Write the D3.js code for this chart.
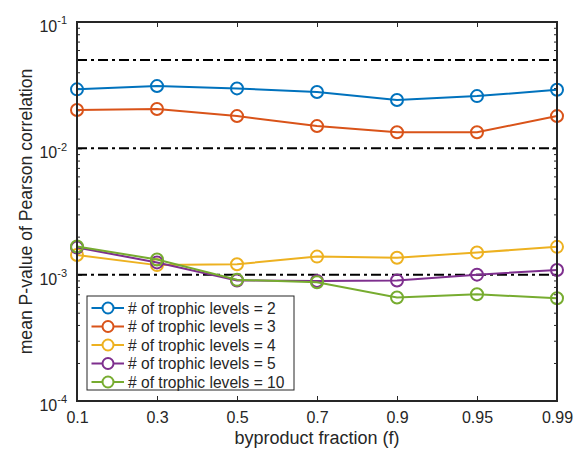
<!DOCTYPE html>
<html>
<head>
<meta charset="utf-8">
<script src="https://cdn.jsdelivr.net/npm/d3@7"></script>
<style>
  body { margin: 0; background: #fff; }
  text { font-family: "Liberation Sans", Arial, sans-serif; fill: #262626; }
</style>
</head>
<body>
<div id="chart"></div>
<script>
//Datos
const fractions = ['0.1', '0.3', '0.5', '0.7', '0.9', '0.95', '0.99'];
const seriesNames = ['# of trophic levels = 2', '# of trophic levels = 3', '# of trophic levels = 4', '# of trophic levels = 5', '# of trophic levels = 10'];
const levels2 = [0.0293, 0.0311, 0.0298, 0.0279, 0.0241, 0.0259, 0.0291];
const levels3 = [0.0201, 0.0205, 0.0180, 0.0150, 0.0134, 0.0134, 0.0180];
const levels4 = [0.00143, 0.00119, 0.00121, 0.00139, 0.00136, 0.00150, 0.00166];
const levels5 = [0.00164, 0.00125, 0.00090, 0.00089, 0.00090, 0.00100, 0.00109];
const levels10 = [0.00167, 0.00132, 0.00091, 0.00087, 0.00066, 0.00070, 0.00065];
const thresholds = [0.05, 0.01, 0.001];
const yTickExps = [-1, -2, -3, -4];

//Colores MATLAB
const COLORS = ['#0072BD', '#D95319', '#EDB120', '#7E2F8E', '#77AC30'];

let allSeries = [levels2, levels3, levels4, levels5, levels10];

let margin = {top: 22, right: 17, bottom: 52, left: 77},
    width = 574 - margin.left - margin.right,
    height = 453 - margin.top - margin.bottom;

let svg = d3.select('#chart')
    .append('svg')
      .attr('width', 574)
      .attr('height', 453)
    .append('g')
      .attr('transform', 'translate(' + margin.left + ',' + margin.top + ')');

let x = d3.scalePoint()
    .domain(fractions)
    .range([0, width]);

let y = d3.scaleLog()
    .domain([1e-4, 1e-1])
    .range([height, 0]);

//Ticks menores del eje log
let minorTicks = [];
[-4, -3, -2].forEach(function(e) {
    for (let m = 2; m <= 9; m++) minorTicks.push(m * Math.pow(10, e));
});

//Ejes
let xBottom = svg.append('g')
    .attr('transform', 'translate(0,' + height + ')')
    .call(d3.axisBottom(x).tickSizeInner(-5).tickSizeOuter(0).tickPadding(11));
let xTop = svg.append('g')
    .call(d3.axisTop(x).tickSizeInner(-5).tickSizeOuter(0).tickFormat(''));

let yLeft = svg.append('g')
    .call(d3.axisLeft(y).tickValues(yTickExps.map(e => Math.pow(10, e))).tickSizeInner(-5).tickSizeOuter(0).tickFormat(''));
let yRight = svg.append('g')
    .attr('transform', 'translate(' + width + ',0)')
    .call(d3.axisRight(y).tickValues(yTickExps.map(e => Math.pow(10, e))).tickSizeInner(-5).tickSizeOuter(0).tickFormat(''));

svg.append('g')
    .call(d3.axisLeft(y).tickValues(minorTicks).tickSizeInner(-3).tickSizeOuter(0).tickFormat(''));
svg.append('g')
    .attr('transform', 'translate(' + width + ',0)')
    .call(d3.axisRight(y).tickValues(minorTicks).tickSizeInner(-3).tickSizeOuter(0).tickFormat(''));

svg.selectAll('.domain').remove();
svg.selectAll('.tick line').attr('stroke', '#262626').attr('stroke-width', 1);

xBottom.selectAll('.tick text')
    .attr('font-size', 16)
    .attr('fill', '#262626');

//Etiquetas del eje y con exponente
yLeft.selectAll('.tick').each(function(d) {
    let t = d3.select(this).append('text')
        .attr('x', -10)
        .attr('dy', '0.6em')
        .attr('text-anchor', 'end')
        .attr('font-size', 16);
    t.append('tspan').text('10');
    t.append('tspan')
        .attr('font-size', 11)
        .attr('dy', '-0.7em')
        .text(Math.round(Math.log10(d)));
});

//Líneas de umbral
svg.selectAll('.threshold')
    .data(thresholds)
    .enter()
    .append('line')
    .attr('class', 'threshold')
    .attr('x1', 0)
    .attr('x2', width)
    .attr('y1', d => y(d))
    .attr('y2', d => y(d))
    .attr('stroke', '#000')
    .attr('stroke-width', 2)
    .attr('stroke-dasharray', '10,4,3,4');

//Series
let line = d3.line()
    .x((d, i) => x(fractions[i]))
    .y(d => y(d));

allSeries.forEach(function(serie, k) {
    let g = svg.append('g').attr('class', 'serie serie-' + k);
    g.append('path')
        .datum(serie)
        .attr('fill', 'none')
        .attr('stroke', COLORS[k])
        .attr('stroke-width', 2)
        .attr('d', line);
    g.selectAll('circle')
        .data(serie)
        .enter()
        .append('circle')
        .attr('cx', (d, i) => x(fractions[i]))
        .attr('cy', d => y(d))
        .attr('r', 6)
        .attr('fill', 'none')
        .attr('stroke', COLORS[k])
        .attr('stroke-width', 2);
});

//Caja de los ejes
svg.append('rect')
    .attr('x', 0)
    .attr('y', 0)
    .attr('width', width)
    .attr('height', height)
    .attr('fill', 'none')
    .attr('stroke', '#262626')
    .attr('stroke-width', 2);

//Leyenda
let legend = svg.append('g')
    .attr('transform', 'translate(10,' + (296 - margin.top) + ')');

legend.append('rect')
    .attr('width', 207)
    .attr('height', 94)
    .attr('fill', '#fff')
    .attr('stroke', '#262626')
    .attr('stroke-width', 1);

seriesNames.forEach(function(name, k) {
    let row = legend.append('g')
        .attr('transform', 'translate(0,' + (12 + k * 18.5) + ')');
    row.append('line')
        .attr('x1', 4.5)
        .attr('x2', 37)
        .attr('stroke', COLORS[k])
        .attr('stroke-width', 2);
    row.append('circle')
        .attr('cx', 21)
        .attr('r', 5.5)
        .attr('fill', '#fff')
        .attr('stroke', COLORS[k])
        .attr('stroke-width', 2);
    row.append('text')
        .attr('x', 41)
        .attr('dy', '0.36em')
        .attr('font-size', 15.6)
        .attr('fill', '#000')
        .text(name);
});

//Títulos de ejes
svg.append('text')
    .attr('x', width / 2)
    .attr('y', height + 43)
    .attr('text-anchor', 'middle')
    .attr('font-size', 18)
    .text('byproduct fraction (f)');

svg.append('text')
    .attr('transform', 'translate(' + (-45.5) + ',' + (height / 2) + ') rotate(-90)')
    .attr('text-anchor', 'middle')
    .attr('font-size', 17.6)
    .text('mean P-value of Pearson correlation');
</script>
</body>
</html>
